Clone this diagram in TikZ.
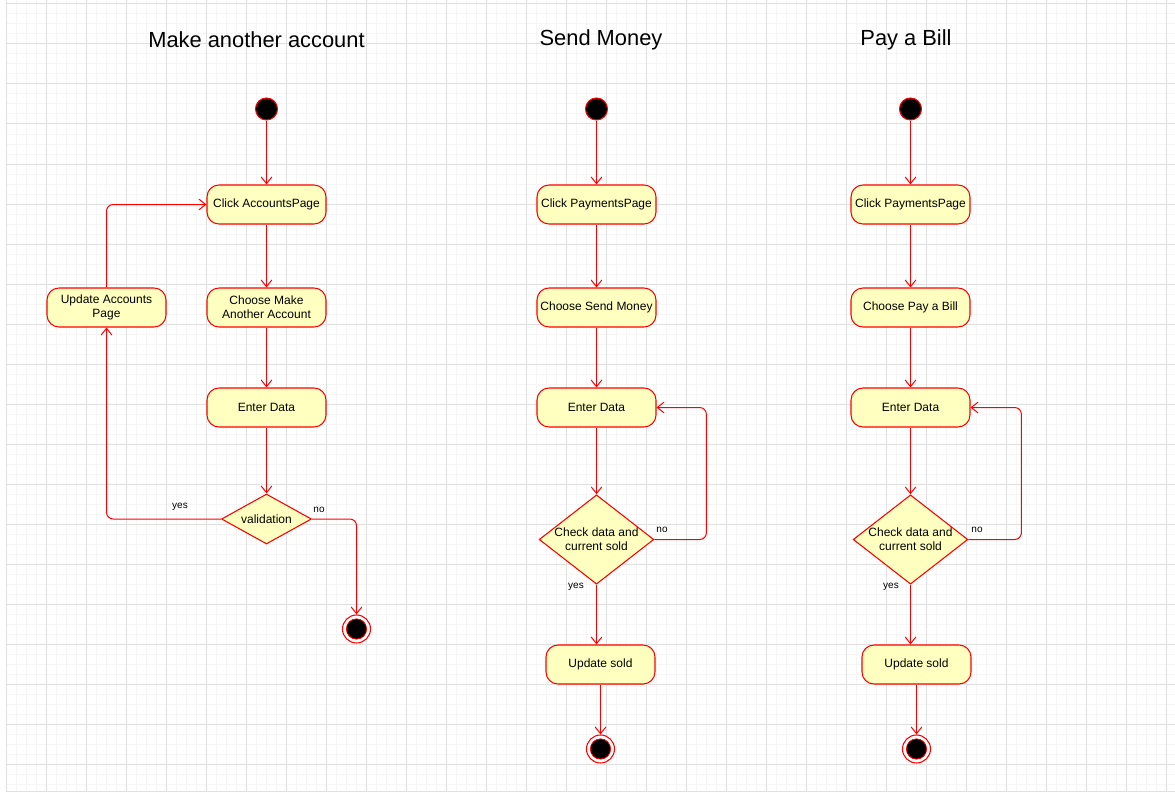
\documentclass[tikz,border=0pt]{standalone}
\usepackage{fontspec}
\setmainfont{Liberation Sans}
\usetikzlibrary{shapes.geometric,arrows.meta}
\definecolor{actfill}{HTML}{FFFFC0}
\definecolor{actline}{HTML}{FF0000}
\definecolor{gridmajor}{HTML}{E0E0E0}
\definecolor{gridminor}{HTML}{F5F5F5}
\begin{document}
\begin{tikzpicture}[x=0.75pt,y=-0.75pt,
		activity/.style={draw=actline,fill=actfill,line width=0.8pt,rounded corners=9pt,
			minimum width=89.25pt,minimum height=29.25pt,align=center,inner sep=1pt,
			font=\fontsize{9}{10.5}\selectfont},
		decision/.style={diamond,draw=actline,fill=actfill,line width=0.8pt,inner sep=-10pt,
			align=center,font=\fontsize{9}{10.5}\selectfont},
		startstate/.style={circle,draw=actline,fill=black,line width=0.8pt,minimum size=16.5pt,inner sep=0pt},
		endstate/.style={circle,draw=actline,fill=white,line width=0.8pt,minimum size=21pt,inner sep=0pt,
			path picture={\draw[actline,fill=black,line width=0.6pt] (path picture bounding box.center) circle (7.6pt);}},
		flow/.style={draw=actline,line width=0.75pt,-{Straight Barb[length=5pt,width=8pt]}},
		guard/.style={font=\fontsize{7.5}{9}\selectfont},
		title/.style={font=\fontsize{16.4}{19}\selectfont}]
		\useasboundingbox (0,0) rectangle (1175,792);
		% grid
		\foreach \gx in {6,16,...,1175} \draw[gridminor,line width=0.75pt] (\gx,0) -- (\gx,791);
		\foreach \gy in {4,14,...,791} \draw[gridminor,line width=0.75pt] (6,\gy) -- (1175,\gy);
		\foreach \gx in {6,46,...,1175} \draw[gridmajor,line width=0.75pt] (\gx,0) -- (\gx,791);
		\foreach \gy in {4,44,...,791} \draw[gridmajor,line width=0.75pt] (6,\gy) -- (1175,\gy);
		\draw[gridmajor,line width=0.75pt] (6,791) -- (1175,791);
		% titles
		\node[title] (title1) at (256.5,40) {Make another account};
		\node[title] (title2) at (601,40) {Send Money};
		\node[title] (title3) at (906,40) {Pay a Bill};
		% make another account
		\node[startstate] (start1) at (266.5,109) {};
		\node[activity] (click1) at (266.5,204.5) {Click AccountsPage};
		\node[activity] (choose1) at (266.5,307.5) {Choose Make\\Another Account};
		\node[activity] (update1) at (106.5,307.5) {Update Accounts\\Page};
		\node[activity] (enter1) at (266.5,407.5) {Enter Data};
		\node[decision,minimum width=67.5pt,minimum height=37.5pt] (valid1) at (266.5,519) {validation};
		\node[endstate] (end1) at (356.5,629) {};
		\draw[flow] (start1) -- (click1);
		\draw[flow] (click1) -- (choose1);
		\draw[flow] (choose1) -- (enter1);
		\draw[flow] (enter1) -- (valid1);
		\draw[flow,rounded corners=5pt] (valid1.west) -| (update1.south);
		\draw[flow,rounded corners=5pt] (update1.north) |- (click1.west);
		\draw[flow,rounded corners=5pt] (valid1.east) -| (end1.north);
		\node[guard] (yes1) at (180,507) {yes};
		\node[guard] (no1) at (319,510) {no};
		% send money
		\node[startstate] (start2) at (596.5,109) {};
		\node[activity] (click2) at (596.5,204.5) {Click PaymentsPage};
		\node[activity] (choose2) at (596.5,307.5) {Choose Send Money};
		\node[activity] (enter2) at (596.5,407.5) {Enter Data};
		\node[decision,minimum width=86pt,minimum height=67pt] (check2) at (596.5,539.5) {Check data and\\current sold};
		\node[activity,minimum width=81.75pt] (upd2) at (600.5,664.5) {Update sold};
		\node[endstate] (end2) at (600.5,749) {};
		\draw[flow] (start2) -- (click2);
		\draw[flow] (click2) -- (choose2);
		\draw[flow] (choose2) -- (enter2);
		\draw[flow] (enter2) -- (check2);
		\draw[flow,rounded corners=5pt] (check2.east) -- ++(52,0) |- (enter2.east);
		\draw[flow] (check2.south) -- (check2.south |- upd2.north);
		\draw[flow] (upd2) -- (end2);
		\node[guard] (no2) at (662,530) {no};
		\node[guard] (yes2) at (576,587) {yes};
		% pay a bill
		\node[startstate] (start3) at (910.5,109) {};
		\node[activity] (click3) at (910.5,204.5) {Click PaymentsPage};
		\node[activity] (choose3) at (910.5,307.5) {Choose Pay a Bill};
		\node[activity] (enter3) at (910.5,407.5) {Enter Data};
		\node[decision,minimum width=86pt,minimum height=67pt] (check3) at (910.5,539.5) {Check data and\\current sold};
		\node[activity,minimum width=81.75pt] (upd3) at (916.5,664.5) {Update sold};
		\node[endstate] (end3) at (916.5,749) {};
		\draw[flow] (start3) -- (click3);
		\draw[flow] (click3) -- (choose3);
		\draw[flow] (choose3) -- (enter3);
		\draw[flow] (enter3) -- (check3);
		\draw[flow,rounded corners=5pt] (check3.east) -- ++(53,0) |- (enter3.east);
		\draw[flow] (check3.south) -- (check3.south |- upd3.north);
		\draw[flow] (upd3) -- (end3);
		\node[guard] (no3) at (977,530) {no};
		\node[guard] (yes3) at (891,587) {yes};
\end{tikzpicture}
\end{document}
